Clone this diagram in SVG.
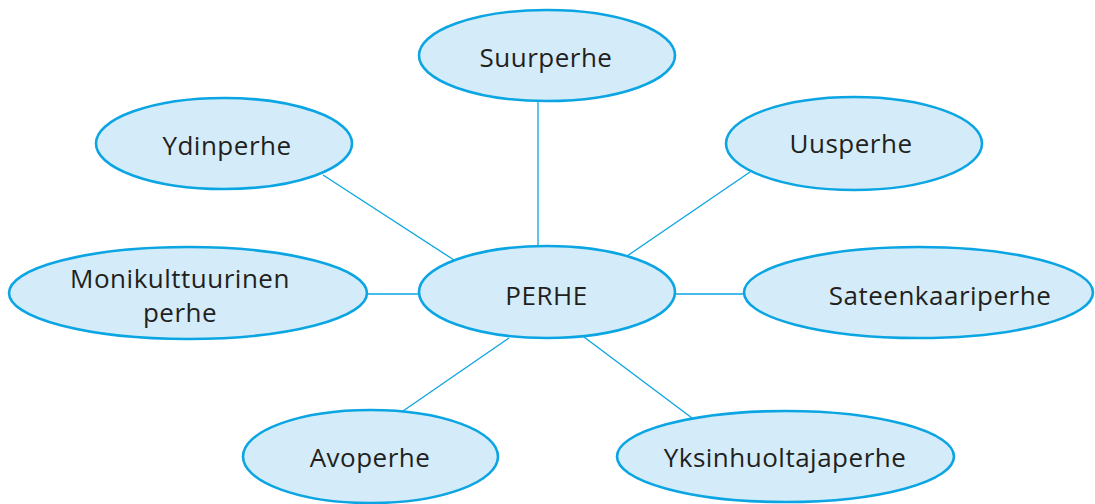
<svg xmlns="http://www.w3.org/2000/svg" width="1095" height="504" viewBox="0 0 1095 504">
<style>
.n ellipse{fill:#d4ecf9;stroke:#0aa5e2;stroke-width:2.6}
.n text{font-family:"Open Sans","Noto Sans",sans-serif;font-size:26px;fill:#231f20;text-anchor:middle;letter-spacing:0.5px}
#edges line{stroke:#0aa5e2;stroke-width:1.3}
</style>
<rect width="1095" height="504" fill="#fff"/>
<g id="edges">
<line x1="538" y1="101" x2="538" y2="246"/>
<line x1="323" y1="175" x2="454" y2="260"/>
<line x1="750" y1="172" x2="627" y2="256"/>
<line x1="367" y1="294" x2="419" y2="294"/>
<line x1="675" y1="294" x2="744" y2="294"/>
<line x1="509" y1="338" x2="403" y2="411"/>
<line x1="584" y1="337" x2="692" y2="418"/>
</g>
<g id="suurperhe" class="n"><ellipse cx="547" cy="55.5" rx="128" ry="45.5"/><text x="546" y="67">Suurperhe</text></g>
<g id="ydinperhe" class="n"><ellipse cx="224" cy="143.5" rx="128" ry="45.5"/><text x="227" y="155">Ydinperhe</text></g>
<g id="uusperhe" class="n"><ellipse cx="854" cy="143.5" rx="128" ry="46.5"/><text x="851" y="153">Uusperhe</text></g>
<g id="monikulttuurinen" class="n"><ellipse cx="188" cy="293" rx="179" ry="46"/><text x="180" y="288">Monikulttuurinen</text><text x="180" y="322">perhe</text></g>
<g id="perhe" class="n"><ellipse cx="547" cy="292" rx="128" ry="46"/><text x="546.5" y="305">PERHE</text></g>
<g id="sateenkaariperhe" class="n"><ellipse cx="918.5" cy="292.5" rx="174.5" ry="45.5"/><text x="940" y="305">Sateenkaariperhe</text></g>
<g id="avoperhe" class="n"><ellipse cx="370.5" cy="456.5" rx="127.5" ry="46.5"/><text x="370" y="467">Avoperhe</text></g>
<g id="yksinhuoltajaperhe" class="n"><ellipse cx="785.5" cy="456.5" rx="168.5" ry="45.5"/><text x="785" y="467">Yksinhuoltajaperhe</text></g>
</svg>
